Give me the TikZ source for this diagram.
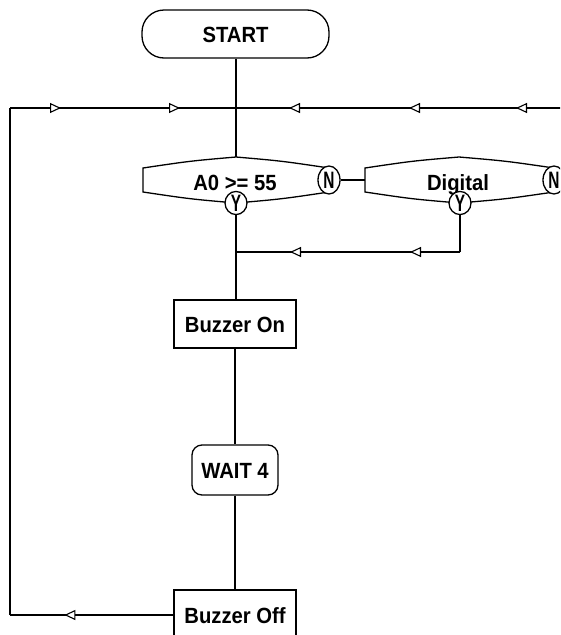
\documentclass[tikz,border=0pt]{standalone}
\usepackage{fontspec}
\usepackage{graphicx}
\setmainfont{Liberation Sans}
\usetikzlibrary{arrows.meta,decorations.markings,shapes.geometric}
\tikzset{
  base/.style={line width=1.3pt},
  txt/.style={font=\fontsize{22}{24}\selectfont\bfseries, text height=16pt, text depth=0pt, inner sep=0pt},
  procbox/.style={txt, draw, fill=white, minimum width=122pt, minimum height=48pt},
  termbox/.style={txt, draw, fill=white, rounded corners=#1},
  yn/.style={draw, ellipse, fill=white, inner sep=0pt, minimum width=22pt, minimum height=22pt,
     font=\fontsize{22}{22}\selectfont\bfseries},
  mk/.style={postaction={decorate, decoration={markings,
     mark=at position #1 with {\arrow{Triangle[fill=white,length=11pt,width=10pt,line width=1.1pt]}}}}}
}
\newcommand{\ynl}[1]{\scalebox{0.7}[1.08]{#1}}
\newcommand{\cnd}[1]{\scalebox{0.92}[1]{#1}}
\begin{document}
\begin{tikzpicture}[x=1pt,y=-1pt,base]
\useasboundingbox (0,0) rectangle (560,635);
\clip (0,0) rectangle (560,635);
\fill[white] (0,0) rectangle (560,635);

% terminals and process boxes
\node[termbox=22pt, minimum width=187pt, minimum height=48pt] (start) at (235.5,34) {\cnd{START}};
\node[procbox] (bon) at (235,324) {\cnd{Buzzer On}};
\node[termbox=10pt, minimum width=86pt, minimum height=50pt] (wait) at (235,470) {\cnd{WAIT 4}};
\node[procbox, minimum height=50pt] (boff) at (235,615) {\cnd{Buzzer Off}};

% decision 1
\coordinate (d1t) at (236,157);
\draw[fill=white] (143,168) .. controls (190,161) .. (236,157) .. controls (282,161) .. (329,168)
   -- (329,192) .. controls (282,199) .. (236,203) .. controls (190,199) .. (143,192) -- cycle;
\node[txt] (d1) at (235,182) {\cnd{A0 >= 55}};
\node[yn, minimum height=28pt] (n1) at (329,180) {\ynl{N}};
\node[yn] (y1) at (236,203) {\ynl{Y}};

% decision 2
\coordinate (d2l) at (365,180);
\draw[fill=white] (365,168) .. controls (412,161) .. (459,157) .. controls (506,161) .. (554,168)
   -- (554,192) .. controls (506,199) .. (459,203) .. controls (412,199) .. (365,192) -- cycle;
\node[txt] (d2) at (458,182) {\cnd{Digital}};
\node[yn, minimum height=28pt] (n2) at (554,180) {\ynl{N}};
\node[yn] (y2) at (460,203) {\ynl{Y}};

% coordinates for the connectors
\coordinate (j1) at (236,108);
\coordinate (lt) at (10,108);
\coordinate (lb) at (10,615);
\coordinate (rr) at (562,108);
\coordinate (c2) at (460,252);
\coordinate (j2) at (236,252);

% connectors
\draw (start.south -| d1t) -- (d1t);
\draw (n1) -- (d2l);
\draw (y1) -- (bon.north -| y1);
\draw (bon) -- (wait);
\draw (wait) -- (boff);
\draw (y2) -- (c2);
\draw[mk=50pt, mk=170pt] (c2) -- (j2);
\draw[mk=109pt] (boff.west) -- (lb);
\draw (lb) -- (lt);
\draw[mk=51pt, mk=170pt] (lt) -- (j1);
\draw[mk=46pt, mk=153pt, mk=273pt] (rr) -- (j1);
\end{tikzpicture}
\end{document}
